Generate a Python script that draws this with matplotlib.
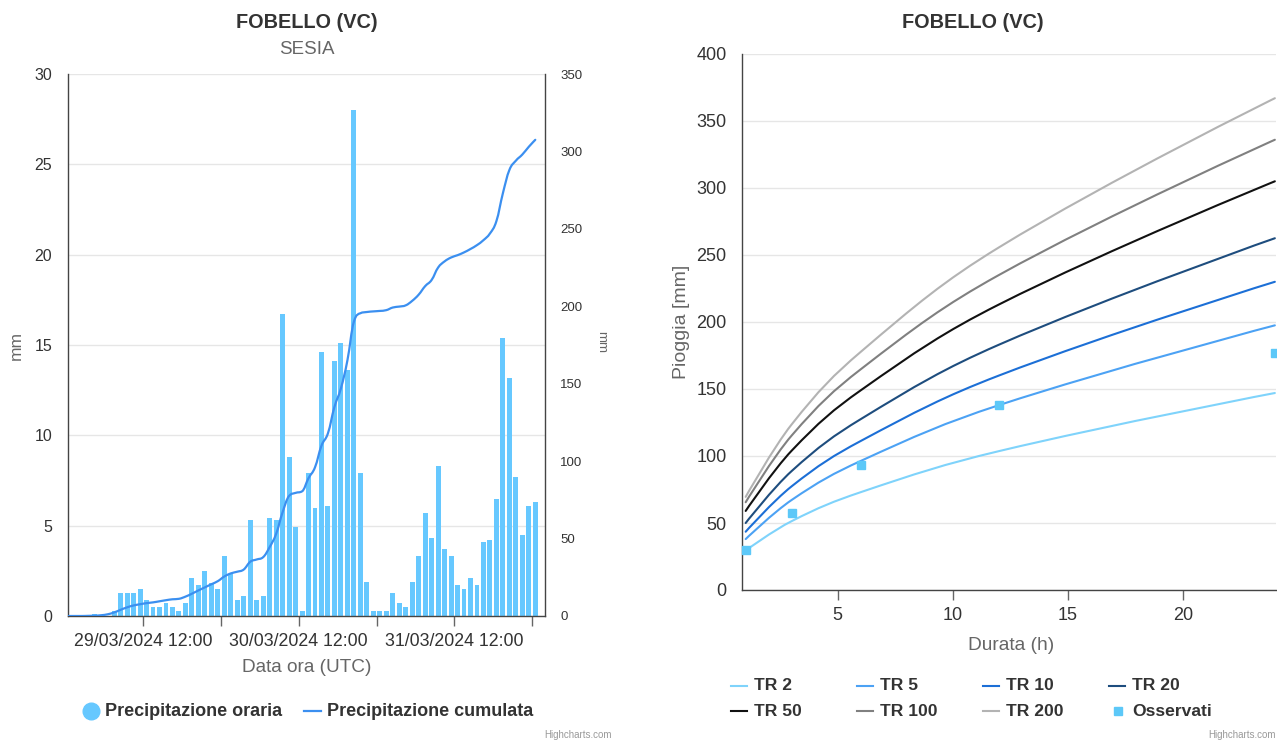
import numpy as np
import matplotlib
matplotlib.use("Agg")
import matplotlib.pyplot as plt
from matplotlib.path import Path
from matplotlib.patches import PathPatch

plt.rcParams['font.family'] = ['Liberation Sans', 'DejaVu Sans']

W, H = 1277, 740

# ---------------- hourly rainfall, FOBELLO (VC) ----------------
# one value per hour, first hour 29/03/2024 00:00-01:00
hourly_rain = [
    0, 0, 0, 0, 0.1, 0, 0, 0.3, 1.3, 1.3, 1.3, 1.5,
    0.9, 0.5, 0.5, 0.7, 0.5, 0.3, 0.7, 2.1, 1.7, 2.5, 1.8, 1.5,
    3.3, 2.3, 0.9, 1.1, 5.3, 0.9, 1.1, 5.4, 5.3, 16.7, 8.8, 4.9,
    0.3, 7.9, 6.0, 14.6, 6.1, 14.1, 15.1, 13.6, 28.0, 7.9, 1.9, 0.3,
    0.3, 0.3, 1.3, 0.7, 0.5, 1.9, 3.3, 5.7, 4.3, 8.3, 3.7, 3.3,
    1.7, 1.5, 2.1, 1.7, 4.1, 4.2, 6.5, 15.4, 13.2, 7.7, 4.5, 6.1,
    6.3,
]
cumulative_rain = [
    0, 0, 0, 0.1, 0.2, 0.5, 1.1, 2.3, 4.0, 5.6, 6.8, 7.6,
    8.3, 8.8, 9.5, 10.2, 10.8, 11.1, 12.5, 14.4, 16.5, 18.5, 20.5, 22.5,
    25.5, 27.5, 28.6, 30.0, 35.0, 36.5, 38.0, 44.5, 53.0, 67.0, 77.5, 79.5,
    80.5, 89.0, 96.0, 110.0, 118.0, 135.0, 147.0, 165.0, 190.0, 195.5, 196.3, 196.7,
    197.0, 197.5, 199.2, 199.8, 200.6, 203.5, 207.5, 213.0, 217.0, 225.0, 229.0, 231.5,
    233.0, 234.8, 237.0, 239.5, 242.7, 247.0, 255.0, 273.0, 288.0, 294.0, 298.0, 303.0,
    307.5,
]
# hours since 29/03/2024 00:00, centre of each hourly interval
hour_centres = np.arange(len(hourly_rain)) + 0.5
date_ticks = [12, 24, 36, 48, 60, 72]
date_labels = ['29/03/2024 12:00', '', '30/03/2024 12:00', '',
               '31/03/2024 12:00', '']

# ---------------- depth-duration curves ----------------
durations = [1, 3, 6, 12, 24]
tr2 = [29.5, 51.4, 73.0, 103.6, 147.0]
tr5 = [38.0, 67.2, 96.3, 137.9, 197.5]
tr10 = [43.5, 77.4, 111.2, 160.0, 230.0]
tr20 = [50.0, 88.8, 127.5, 183.0, 262.5]
tr50 = [59.0, 104.0, 149.0, 213.0, 305.0]
tr100 = [65.5, 115.3, 164.7, 235.0, 336.0]
tr200 = [69.5, 123.6, 177.7, 255.6, 367.0]
observed = [29.5, 57.5, 93.3, 138.0, 176.7]
curve_names = ['TR 2', 'TR 5', 'TR 10', 'TR 20', 'TR 50', 'TR 100', 'TR 200']
curve_values = [tr2, tr5, tr10, tr20, tr50, tr100, tr200]
curve_colors = ['#7fd3fb', '#4ca2f4', '#1c6fd6', '#1e4d7e', '#111111',
                '#808080', '#b3b3b3']

BAR_COLOR = '#66c8ff'
LINE_COLOR = '#3b8ff0'
OBS_COLOR = '#5cc8f8'
TXT = '#333333'
SUB = '#666666'
GRID = '#e6e6e6'
AXIS = '#444444'


def spline_path(x, y, smoothing=1.5):
    """Smooth curve through the points (same construction as Highcharts' spline)."""
    n = len(x)
    denom = smoothing + 1.0
    left = [(x[i], y[i]) for i in range(n)]
    right = [(x[i], y[i]) for i in range(n)]
    for i in range(1, n - 1):
        lx = (smoothing * x[i] + x[i - 1]) / denom
        ly = (smoothing * y[i] + y[i - 1]) / denom
        rx = (smoothing * x[i] + x[i + 1]) / denom
        ry = (smoothing * y[i] + y[i + 1]) / denom
        if rx != lx:
            corr = (ry - ly) * (rx - x[i]) / (rx - lx) + y[i] - ry
            ly += corr
            ry += corr
        if ly > y[i - 1] and ly > y[i]:
            ly = max(y[i - 1], y[i]); ry = 2 * y[i] - ly
        elif ly < y[i - 1] and ly < y[i]:
            ly = min(y[i - 1], y[i]); ry = 2 * y[i] - ly
        if ry > y[i + 1] and ry > y[i]:
            ry = max(y[i + 1], y[i]); ly = 2 * y[i] - ry
        elif ry < y[i + 1] and ry < y[i]:
            ry = min(y[i + 1], y[i]); ly = 2 * y[i] - ry
        left[i] = (lx, ly)
        right[i] = (rx, ry)
    verts = [(x[0], y[0])]
    codes = [Path.MOVETO]
    for i in range(1, n):
        verts += [right[i - 1], left[i], (x[i], y[i])]
        codes += [Path.CURVE4] * 3
    return Path(verts, codes)


fig = plt.figure(figsize=(W / 100, H / 100), dpi=100)
fig.patch.set_facecolor('white')


def rect(x0, y0, x1, y1):
    return [x0 / W, 1 - y1 / H, (x1 - x0) / W, (y1 - y0) / H]


# ================= left chart: hourly + cumulative rain =================
ax = fig.add_axes(rect(67.5, 74, 545, 616))
ax.bar(hour_centres, hourly_rain, width=0.76, color=BAR_COLOR, linewidth=0,
       zorder=2)
ax.set_xlim(0.3, 74.0)
ax.set_ylim(0, 30)
ax.set_yticks(range(0, 31, 5))
ax.yaxis.grid(True, color=GRID, linewidth=1)
ax.set_axisbelow(True)
ax.set_xticks(date_ticks)
ax.set_xticklabels(date_labels)
ax.tick_params(axis='x', length=7, width=1, color='#666666', pad=5,
               labelsize=12.8, labelcolor=TXT)
ax.tick_params(axis='y', length=0, pad=11, labelsize=11.5, labelcolor=TXT)
for s in ['top', 'right']:
    ax.spines[s].set_visible(False)
for s in ['left', 'bottom']:
    ax.spines[s].set_color(AXIS)
    ax.spines[s].set_linewidth(1)

ax2 = ax.twinx()
ax2.set_ylim(0, 350)
ax2.set_yticks(range(0, 351, 50))
ax2.tick_params(axis='y', length=0, pad=11, labelsize=9.5, labelcolor=TXT)
for s in ['top', 'left', 'bottom']:
    ax2.spines[s].set_visible(False)
ax2.spines['right'].set_color(AXIS)
ax2.spines['right'].set_linewidth(1)
ax2.add_patch(PathPatch(spline_path(list(hour_centres), cumulative_rain),
                        facecolor='none', edgecolor=LINE_COLOR, linewidth=1.6,
                        capstyle='round', joinstyle='round', zorder=3))

# ================= right chart: depth-duration curves =================
axr = fig.add_axes(rect(742, 54, 1276, 590))
for vals, col in zip(curve_values, curve_colors):
    axr.add_patch(PathPatch(spline_path(durations, vals), facecolor='none',
                            edgecolor=col, linewidth=1.5, capstyle='round',
                            zorder=3))
axr.plot(durations, observed, linestyle='none', marker='s', markersize=6,
         color=OBS_COLOR, zorder=4, clip_on=False)
axr.set_xlim(0.84, 24.05)
axr.set_ylim(0, 400)
axr.set_yticks(range(0, 401, 50))
axr.set_xticks([5, 10, 15, 20])
axr.yaxis.grid(True, color=GRID, linewidth=1)
axr.set_axisbelow(True)
axr.tick_params(axis='x', length=7, width=1, color='#666666', pad=5,
                labelsize=13, labelcolor=TXT)
axr.tick_params(axis='y', length=0, pad=11, labelsize=13, labelcolor=TXT)
for s in ['top', 'right']:
    axr.spines[s].set_visible(False)
for s in ['left', 'bottom']:
    axr.spines[s].set_color(AXIS)
    axr.spines[s].set_linewidth(1)

# ================= titles, axis titles, legends (pixel overlay) =================
ov = fig.add_axes([0, 0, 1, 1])
ov.set_xlim(0, W)
ov.set_ylim(H, 0)
ov.axis('off')
ov.patch.set_alpha(0)

ov.text(307, 23, 'FOBELLO (VC)', ha='center', va='center', fontsize=14.3,
        fontweight='bold', color=TXT)
ov.text(307, 50, 'SESIA', ha='center', va='center', fontsize=13.5, color=SUB)
ov.text(973, 23, 'FOBELLO (VC)', ha='center', va='center', fontsize=14.3,
        fontweight='bold', color=TXT)

ov.text(16, 345, 'mm', ha='center', va='center', rotation=90, fontsize=12.5,
        color=SUB)
ov.text(601, 342, 'mm', ha='center', va='center', rotation=270, fontsize=9.5,
        color=SUB)
ov.text(307, 668, 'Data ora (UTC)', ha='center', va='center', fontsize=13.7,
        color=SUB)
ov.text(681, 322, 'Pioggia [mm]', ha='center', va='center', rotation=90,
        fontsize=14, color=SUB)
ov.text(1011, 645, 'Durata (h)', ha='center', va='center', fontsize=13.8,
        color=SUB)

# left legend
ov.plot([90.5], [711], marker='o', markersize=12, color=BAR_COLOR,
        linestyle='none')
ov.text(105, 711, 'Precipitazione oraria', ha='left', va='center',
        fontsize=13, fontweight='bold', color=TXT)
ov.plot([304, 321], [711, 711], color=LINE_COLOR, linewidth=1.6)
ov.text(327, 711, 'Precipitazione cumulata', ha='left', va='center',
        fontsize=13, fontweight='bold', color=TXT)

# right legend
legend_cols = [731, 857, 983, 1109]
legend_rows = [686, 711]
for k, (name, col) in enumerate(zip(curve_names, curve_colors)):
    r, c = divmod(k, 4)
    x0, y0 = legend_cols[c], legend_rows[r]
    ov.plot([x0, x0 + 16], [y0, y0], color=col, linewidth=1.5)
    ov.text(x0 + 23, y0, name, ha='left', va='center', fontsize=12.6,
            fontweight='bold', color=TXT)
ov.plot([legend_cols[3] + 9], [legend_rows[1]], marker='s', markersize=6,
        color=OBS_COLOR, linestyle='none')
ov.text(legend_cols[3] + 23, legend_rows[1], 'Osservati', ha='left',
        va='center', fontsize=12.6, fontweight='bold', color=TXT)

ov.text(578, 735, 'Highcharts.com', ha='center', va='center', fontsize=7,
        color='#999999')
ov.text(1242, 735, 'Highcharts.com', ha='center', va='center', fontsize=7,
        color='#999999')

fig.savefig('out.png', dpi=100, facecolor='white')
